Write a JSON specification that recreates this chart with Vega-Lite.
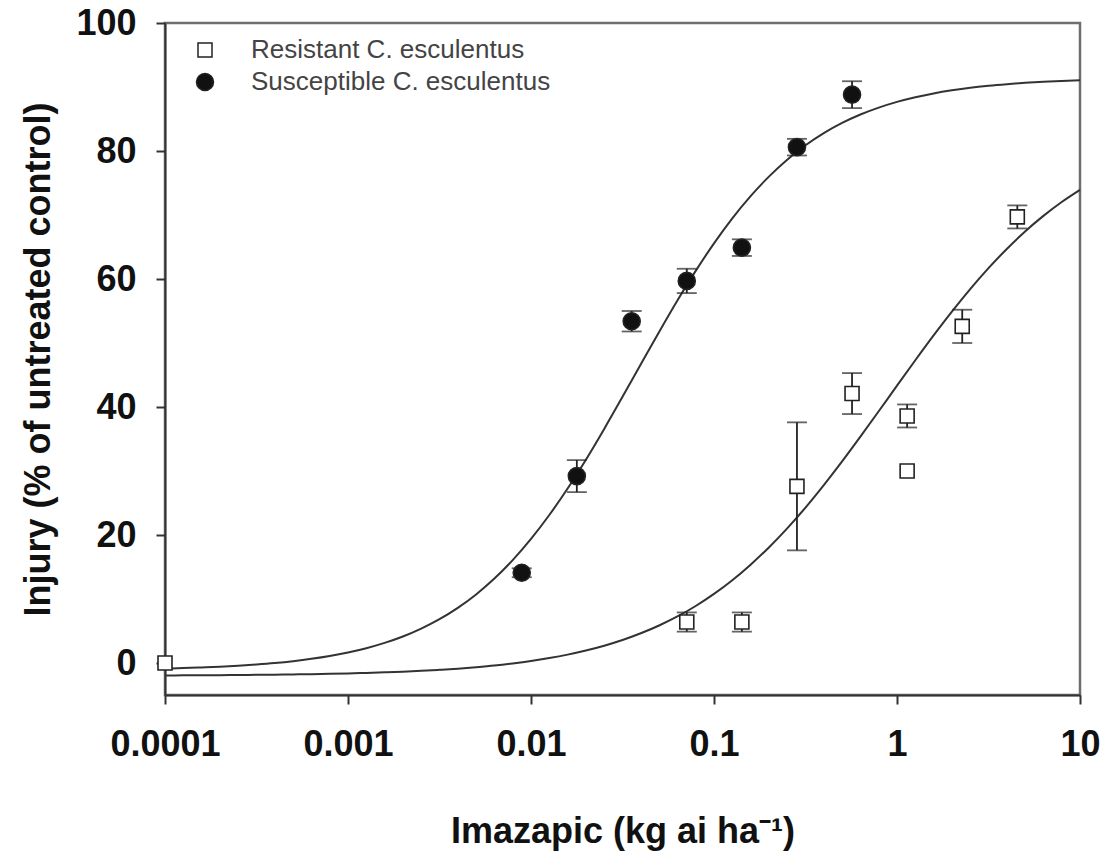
{
  "$schema": "https://vega.github.io/schema/vega-lite/v6.json",
  "width": 915,
  "height": 672,
  "autosize": {"type": "none"},
  "padding": {"left": 165, "top": 23, "right": 27, "bottom": 159},
  "background": "white",
  "config": {
    "font": "Liberation Sans",
    "view": {"stroke": "#6e6e6e", "strokeWidth": 2.5},
    "axis": {
      "grid": false,
      "domainColor": "#333333",
      "domainWidth": 2,
      "tickColor": "#333333",
      "tickWidth": 2,
      "tickSize": 9,
      "labelFont": "Liberation Sans",
      "labelFontSize": 36,
      "labelFontWeight": "bold",
      "labelColor": "#111111",
      "titleFont": "Liberation Sans",
      "titleFontSize": 36,
      "titleFontWeight": "bold",
      "titleColor": "#111111",
      "labelOverlap": false,
      "labelFlush": false
    },
    "legend": {
      "orient": "none",
      "legendX": 27,
      "legendY": 14,
      "padding": 0,
      "labelFont": "Liberation Sans",
      "labelFontSize": 26,
      "labelColor": "#444444",
      "labelOffset": 33,
      "labelLimit": 500,
      "rowPadding": 6
    }
  },
  "datasets": {
    "points": [
      {"dose": 0.0001, "injury": 0.0, "se": 0, "group": "Resistant C. esculentus"},
      {"dose": 0.071, "injury": 6.4, "se": 1.5, "group": "Resistant C. esculentus"},
      {"dose": 0.142, "injury": 6.4, "se": 1.5, "group": "Resistant C. esculentus"},
      {"dose": 0.284, "injury": 27.6, "se": 10.0, "group": "Resistant C. esculentus"},
      {"dose": 0.568, "injury": 42.1, "se": 3.2, "group": "Resistant C. esculentus"},
      {"dose": 1.136, "injury": 38.6, "se": 1.8, "group": "Resistant C. esculentus"},
      {"dose": 1.136, "injury": 30.0, "se": 0, "group": "Resistant C. esculentus"},
      {"dose": 2.272, "injury": 52.6, "se": 2.6, "group": "Resistant C. esculentus"},
      {"dose": 4.544, "injury": 69.7, "se": 1.8, "group": "Resistant C. esculentus"},
      {"dose": 0.0089, "injury": 14.1, "se": 0.7, "group": "Susceptible C. esculentus"},
      {"dose": 0.0178, "injury": 29.2, "se": 2.5, "group": "Susceptible C. esculentus"},
      {"dose": 0.0355, "injury": 53.4, "se": 1.6, "group": "Susceptible C. esculentus"},
      {"dose": 0.071, "injury": 59.7, "se": 1.9, "group": "Susceptible C. esculentus"},
      {"dose": 0.142, "injury": 64.9, "se": 1.3, "group": "Susceptible C. esculentus"},
      {"dose": 0.284, "injury": 80.6, "se": 1.3, "group": "Susceptible C. esculentus"},
      {"dose": 0.568, "injury": 88.8, "se": 2.1, "group": "Susceptible C. esculentus"}
    ],
    "curves": [
      {"dose": 0.0001, "susceptible": -0.88, "resistant": -1.94},
      {"dose": 0.00012589, "susceptible": -0.80, "resistant": -1.93},
      {"dose": 0.00015849, "susceptible": -0.70, "resistant": -1.91},
      {"dose": 0.00019953, "susceptible": -0.58, "resistant": -1.90},
      {"dose": 0.00025119, "susceptible": -0.42, "resistant": -1.88},
      {"dose": 0.00031623, "susceptible": -0.23, "resistant": -1.85},
      {"dose": 0.00039811, "susceptible": 0.00, "resistant": -1.82},
      {"dose": 0.00050119, "susceptible": 0.29, "resistant": -1.78},
      {"dose": 0.00063096, "susceptible": 0.65, "resistant": -1.74},
      {"dose": 0.00079433, "susceptible": 1.09, "resistant": -1.69},
      {"dose": 0.001, "susceptible": 1.64, "resistant": -1.63},
      {"dose": 0.0012589, "susceptible": 2.31, "resistant": -1.55},
      {"dose": 0.0015849, "susceptible": 3.14, "resistant": -1.46},
      {"dose": 0.0019953, "susceptible": 4.14, "resistant": -1.35},
      {"dose": 0.0025119, "susceptible": 5.37, "resistant": -1.22},
      {"dose": 0.0031623, "susceptible": 6.84, "resistant": -1.06},
      {"dose": 0.0039811, "susceptible": 8.61, "resistant": -0.88},
      {"dose": 0.0050119, "susceptible": 10.71, "resistant": -0.65},
      {"dose": 0.0063096, "susceptible": 13.19, "resistant": -0.39},
      {"dose": 0.0079433, "susceptible": 16.07, "resistant": -0.07},
      {"dose": 0.01, "susceptible": 19.38, "resistant": 0.31},
      {"dose": 0.012589, "susceptible": 23.12, "resistant": 0.77},
      {"dose": 0.015849, "susceptible": 27.26, "resistant": 1.31},
      {"dose": 0.019953, "susceptible": 31.77, "resistant": 1.95},
      {"dose": 0.025119, "susceptible": 36.58, "resistant": 2.70},
      {"dose": 0.031623, "susceptible": 41.59, "resistant": 3.59},
      {"dose": 0.039811, "susceptible": 46.68, "resistant": 4.64},
      {"dose": 0.050119, "susceptible": 51.73, "resistant": 5.86},
      {"dose": 0.063096, "susceptible": 56.64, "resistant": 7.27},
      {"dose": 0.079433, "susceptible": 61.27, "resistant": 8.91},
      {"dose": 0.1, "susceptible": 65.57, "resistant": 10.80},
      {"dose": 0.12589, "susceptible": 69.48, "resistant": 12.94},
      {"dose": 0.15849, "susceptible": 72.95, "resistant": 15.37},
      {"dose": 0.19953, "susceptible": 76.00, "resistant": 18.06},
      {"dose": 0.25119, "susceptible": 78.64, "resistant": 21.04},
      {"dose": 0.31623, "susceptible": 80.89, "resistant": 24.29},
      {"dose": 0.39811, "susceptible": 82.79, "resistant": 27.80},
      {"dose": 0.50119, "susceptible": 84.38, "resistant": 31.50},
      {"dose": 0.63096, "susceptible": 85.70, "resistant": 35.38},
      {"dose": 0.79433, "susceptible": 86.78, "resistant": 39.33},
      {"dose": 1.0, "susceptible": 87.68, "resistant": 43.34},
      {"dose": 1.2589, "susceptible": 88.41, "resistant": 47.30},
      {"dose": 1.5849, "susceptible": 89.00, "resistant": 51.18},
      {"dose": 1.9953, "susceptible": 89.48, "resistant": 54.90},
      {"dose": 2.5119, "susceptible": 89.88, "resistant": 58.42},
      {"dose": 3.1623, "susceptible": 90.19, "resistant": 61.69},
      {"dose": 3.9811, "susceptible": 90.44, "resistant": 64.70},
      {"dose": 5.0119, "susceptible": 90.65, "resistant": 67.43},
      {"dose": 6.3096, "susceptible": 90.82, "resistant": 69.86},
      {"dose": 7.9433, "susceptible": 90.95, "resistant": 72.03},
      {"dose": 10.0, "susceptible": 91.06, "resistant": 73.93}
    ]
  },
  "encoding": {
    "x": {
      "field": "dose",
      "type": "quantitative",
      "scale": {"type": "log", "domain": [0.0001, 10], "nice": false},
      "axis": {
        "values": [0.0001, 0.001, 0.01, 0.1, 1, 10],
        "format": "~g",
        "labelPadding": 23,
        "titlePadding": 52
      },
      "title": "Imazapic (kg ai ha⁻¹)"
    }
  },
  "layer": [
    {
      "data": {"name": "curves"},
      "mark": {"type": "line", "color": "#333333", "strokeWidth": 2, "interpolate": "monotone"},
      "encoding": {
        "y": {
          "field": "susceptible",
          "type": "quantitative",
          "scale": {"domain": [-5, 100], "nice": false, "zero": false},
          "axis": {"values": [0, 20, 40, 60, 80, 100], "labelPadding": 20, "titlePadding": 18},
          "title": "Injury (% of untreated control)"
        }
      }
    },
    {
      "data": {"name": "curves"},
      "mark": {"type": "line", "color": "#333333", "strokeWidth": 2, "interpolate": "monotone"},
      "encoding": {
        "y": {"field": "resistant", "type": "quantitative", "title": "Injury (% of untreated control)"}
      }
    },
    {
      "data": {"name": "points"},
      "transform": [{"filter": "datum.se > 0"}],
      "mark": {"type": "errorbar", "ticks": {"size": 20}, "color": "#222222", "thickness": 1.8},
      "encoding": {
        "y": {"field": "injury", "type": "quantitative", "title": "Injury (% of untreated control)"},
        "yError": {"field": "se"}
      }
    },
    {
      "data": {"name": "points"},
      "mark": {"type": "point", "filled": true, "stroke": "#222222", "strokeWidth": 1.6, "opacity": 1},
      "encoding": {
        "y": {"field": "injury", "type": "quantitative", "title": "Injury (% of untreated control)"},
        "shape": {
          "field": "group",
          "type": "nominal",
          "title": null,
          "scale": {"domain": ["Resistant C. esculentus", "Susceptible C. esculentus"], "range": ["square", "circle"]},
          "legend": {
            "encode": {
              "symbols": {
                "update": {
                  "stroke": {"value": "#222222"},
                  "strokeWidth": {"value": 1.6},
                  "opacity": {"value": 1}
                }
              }
            }
          }
        },
        "fill": {
          "field": "group",
          "type": "nominal",
          "title": null,
          "scale": {"domain": ["Resistant C. esculentus", "Susceptible C. esculentus"], "range": ["#ffffff", "#111111"]}
        },
        "size": {
          "field": "group",
          "type": "nominal",
          "title": null,
          "scale": {"domain": ["Resistant C. esculentus", "Susceptible C. esculentus"], "range": [196, 290]}
        }
      }
    }
  ]
}
